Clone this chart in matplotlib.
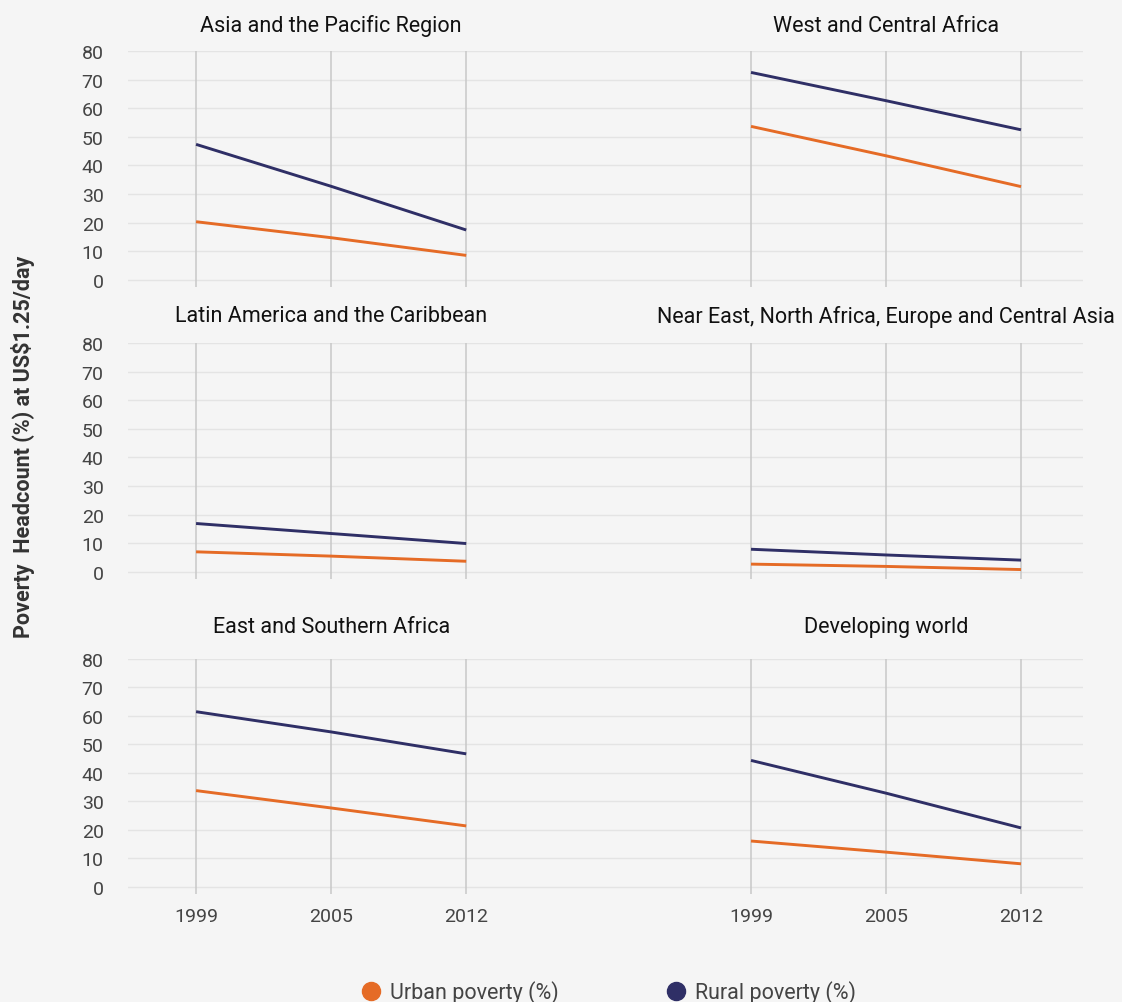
import matplotlib
matplotlib.use("Agg")
import matplotlib.pyplot as plt
from matplotlib.lines import Line2D

plt.rcParams['font.family'] = ['Roboto', 'DejaVu Sans']

# data
years = ['1999', '2005', '2012']
regions = ['Asia and the Pacific Region', 'West and Central Africa',
           'Latin America and the Caribbean', 'Near East, North Africa, Europe and Central Asia',
           'East and Southern Africa', 'Developing world']
urban = [[20.3, 14.7, 8.5],
         [53.7, 43.4, 32.6],
         [7.0, 5.5, 3.7],
         [2.7, 1.9, 0.8],
         [33.8, 27.7, 21.4],
         [16.1, 12.2, 8.1]]
rural = [[47.4, 32.7, 17.4],
         [72.6, 62.7, 52.5],
         [16.9, 13.4, 9.9],
         [7.9, 5.9, 4.1],
         [61.5, 54.4, 46.7],
         [44.4, 32.9, 20.7]]
yticks = [0, 10, 20, 30, 40, 50, 60, 70, 80]

ORANGE = '#E56B26'
NAVY = '#2F2F66'
BG = '#F5F5F5'

W, H = 1122, 1003
fig = plt.figure(figsize=(W / 100, H / 100), dpi=100, facecolor=BG)

# pixel layout: (top of 80 line, bottom of axes) per row, left/right axes x-span
rows_px = [(52.3, 287.8), (344.0, 580.0), (660.0, 895.0)]
cols_px = [(128, 604), (604, 1083)]
# xlim so that categories land where they do in the reference
xlims = [(-0.504, 3.02), (-1.089, 2.459)]
title_pad = [26, 27, 32]

for r, (top, bot) in enumerate(rows_px):
    for c, (x0, x1) in enumerate(cols_px):
        i = r * 2 + c
        ax = fig.add_axes([x0 / W, 1 - bot / H, (x1 - x0) / W, (bot - top) / H])
        ax.set_facecolor(BG)
        xs = range(len(years))
        ax.plot(xs, urban[i], color=ORANGE, lw=2.1, solid_capstyle='butt', zorder=3)
        ax.plot(xs, rural[i], color=NAVY, lw=2.1, solid_capstyle='butt', zorder=3)
        ax.set_xlim(*xlims[c])
        ax.set_ylim(-2.5, 80)
        ax.set_yticks(yticks)
        for y in yticks:
            ax.axhline(y, color='#E4E4E4', lw=1, zorder=1)
        for x in xs:
            ax.axvline(x, color='#C8C8C8', lw=1.1, zorder=2)
        for s in ax.spines.values():
            s.set_visible(False)
        ax.tick_params(length=0, labelsize=14, labelcolor='#444444')
        ax.tick_params(axis='y', pad=17.5)
        if c == 0:
            ax.set_yticklabels([str(v) for v in yticks])
        else:
            ax.set_yticklabels([])
        ax.set_xticks(list(xs))
        if r == 2:
            ax.set_xticklabels(years)
            ax.tick_params(axis='x', pad=9.5)
        else:
            ax.set_xticklabels([])
        ax.annotate(regions[i], xy=(1, 1), xycoords=('data', 'axes fraction'),
                    xytext=(0, title_pad[r] * 0.72), textcoords='offset points',
                    ha='center', va='center', fontsize=15.5, color='#111111')

fig.text(23 / W, 1 - 447 / H, 'Poverty  Headcount (%) at US$1.25/day', rotation=90,
         ha='center', va='center', fontsize=15.5, fontweight='bold', color='#333333')

handles = [Line2D([], [], ls='none', marker='o', markersize=13, color=ORANGE),
           Line2D([], [], ls='none', marker='o', markersize=13, color=NAVY)]
leg = fig.legend(handles, ['Urban poverty (%)', 'Rural poverty (%)'], ncol=2,
                 loc='center', bbox_to_anchor=(608 / W, 1 - 993 / H), frameon=False,
                 fontsize=15.5, handlelength=1.0, handletextpad=0.37, columnspacing=4.95,
                 borderaxespad=0, borderpad=0)
for t in leg.get_texts():
    t.set_color('#444444')

fig.savefig('out.png', dpi=100, facecolor=BG)
